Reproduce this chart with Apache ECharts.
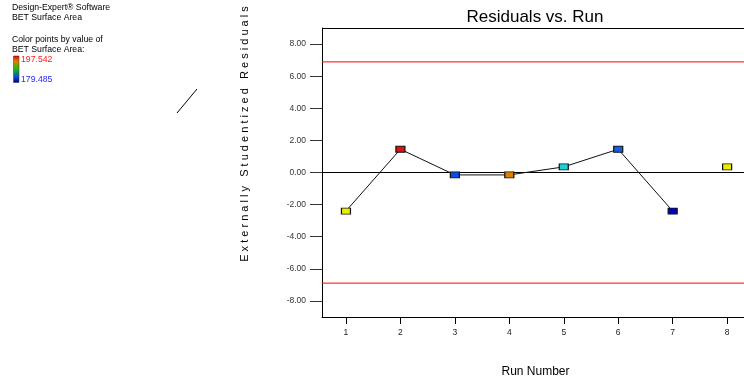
<!DOCTYPE html>
<html>
<head>
<meta charset="utf-8">
<script src="https://cdn.jsdelivr.net/npm/echarts@6/dist/echarts.min.js"></script>
<style>html,body{margin:0;padding:0;background:#fff;}#c{width:744px;height:381px;}</style>
</head>
<body>
<div id="c"></div>
<script>
const runs = [1, 2, 3, 4, 5, 6, 7, 8];
const residuals = [-2.40, 1.45, -0.15, -0.15, 0.35, 1.45, -2.40, 0.35];
const pointColors = ['#ecec00', '#e01010', '#0a4ee0', '#e08000', '#20d0d0', '#1060e8', '#0000c8', '#ecec00'];
const connectedCount = 7;
const limitValue = 6.89;
const yTicks = [-8, -6, -4, -2, 0, 2, 4, 6, 8];
const xTicks = [1, 2, 3, 4, 5, 6, 7, 8];
const titleText = 'Residuals vs. Run';
const xName = 'Run Number';
const yName = 'E x t e r n a l l y   S t u d e n t i z e d   R e s i d u a l s';
const infoLines = ['Design-Expert\u00ae Software', 'BET Surface Area', 'Color points by value of', 'BET Surface Area:'];
const rangeHigh = '197.542';
const rangeLow = '179.485';
const xMin = 0.56, xMax = 8.31;

const chart = echarts.init(document.getElementById('c'), null, {renderer: 'canvas'});
const font = 'Arial, "Liberation Sans", sans-serif';

const scatterData = runs.map((r, i) => ({
  value: [r, residuals[i]],
  itemStyle: {color: pointColors[i]}
}));
const lineData = runs.slice(0, connectedCount).map((r, i) => [r, residuals[i]]);

const infoY = [8.5, 18.5, 40.5, 50];
const graphics = infoLines.map((t, i) => ({
  type: 'text', left: 12, top: infoY[i] - 5,
  style: {text: t, font: '8.7px ' + font, fill: '#000'}
}));
graphics.push(
  {type: 'rect', shape: {x: 13.5, y: 56, width: 5.5, height: 26.5},
   style: {fill: new echarts.graphic.LinearGradient(0, 0, 0, 1, [
     {offset: 0, color: '#e00000'}, {offset: 0.2, color: '#e08000'},
     {offset: 0.5, color: '#10c010'}, {offset: 0.8, color: '#1040e0'},
     {offset: 1, color: '#000080'}]), stroke: '#333', lineWidth: 0.5}},
  {type: 'text', left: 21, top: 55.5, style: {text: rangeHigh, font: '8.7px ' + font, fill: '#ff1a1a'}},
  {type: 'text', left: 21, top: 75.5, style: {text: rangeLow, font: '8.7px ' + font, fill: '#2a2aff'}},
  {type: 'line', shape: {x1: 177, y1: 113, x2: 197, y2: 89}, style: {stroke: '#000', lineWidth: 1}},
  {type: 'line', shape: {x1: 322, y1: 28.5, x2: 744, y2: 28.5}, style: {stroke: '#000', lineWidth: 1}},
  {type: 'text', x: 535, y: 17, style: {text: titleText, font: '17px ' + font, fill: '#000', align: 'center', verticalAlign: 'middle'}},
  {type: 'text', x: 535.5, y: 371.5, style: {text: xName, font: '12px ' + font, fill: '#000', align: 'center', verticalAlign: 'middle'}},
  {type: 'text', x: 245, y: 134, rotation: Math.PI / 2,
   style: {text: yName, font: '11px ' + font, fill: '#000', align: 'center', verticalAlign: 'middle'}}
);

function refLine(value, color) {
  return {
    type: 'line', data: [[xMin, value], [xMax, value]], symbol: 'none', silent: true, z: 2,
    lineStyle: {color: color, width: 1, type: 'solid'}
  };
}

chart.setOption({
  animation: false,
  backgroundColor: '#fff',
  grid: {left: 322, top: 28, width: 422, height: 289, show: false, containLabel: false},
  xAxis: {
    type: 'value', min: xMin, max: xMax,
    splitLine: {show: false},
    axisLine: {onZero: false, lineStyle: {color: '#000', width: 1}},
    axisTick: {show: true, length: 7, customValues: xTicks, lineStyle: {color: '#000'}},
    axisLabel: {customValues: xTicks, margin: 11, fontSize: 8.5, color: '#222', fontFamily: font}
  },
  yAxis: {
    type: 'value', min: -9, max: 9,
    splitLine: {show: false},
    axisLine: {onZero: false, lineStyle: {color: '#000', width: 1}},
    axisTick: {show: true, length: 12, customValues: yTicks, lineStyle: {color: '#333'}},
    axisLabel: {customValues: yTicks, margin: 16, fontSize: 8.5, color: '#333', fontFamily: font,
      formatter: v => v.toFixed(2)}
  },
  series: [
    refLine(limitValue, '#ff0000'),
    refLine(-limitValue, '#ff0000'),
    refLine(0, '#000000'),
    {
      type: 'line', data: lineData, symbol: 'none',
      lineStyle: {color: '#111', width: 1}, z: 3
    },
    {
      type: 'scatter', data: scatterData, symbol: 'rect', symbolSize: [9, 6], z: 5,
      itemStyle: {borderColor: '#111', borderWidth: 1, opacity: 1}
    }
  ],
  graphic: graphics
});
</script>
</body>
</html>
